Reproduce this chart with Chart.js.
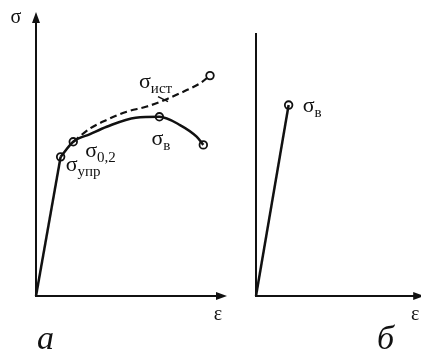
<!DOCTYPE html>
<html>
<head>
<meta charset="utf-8">
<script src="https://cdn.jsdelivr.net/npm/chart.js@4.4.0/dist/chart.umd.min.js"></script>
<style>
html, body { margin: 0; padding: 0; background: #fff; }
#wrap { position: relative; width: 421px; height: 360px; overflow: hidden; }
#wrap canvas { position: absolute; top: 0; }
.cap { position: absolute; font-family: "Liberation Serif", serif; font-style: italic; font-size: 34px; line-height: 1; color: #111; }
</style>
</head>
<body>
<div id="wrap">
  <canvas id="chartA" width="240" height="360" style="left:0"></canvas>
  <canvas id="chartB" width="190" height="360" style="left:240px"></canvas>
  <div class="cap" style="left:37px;top:321px">а</div>
  <div class="cap" style="left:377px;top:321px">б</div>
</div>
<script>
// а: пластичный материал (ε, σ в условных единицах 0..100)
const elasticEps = [0, 12.9];
const elasticSig = [0, 49.0];
const curveEps = [12.9, 19.5, 28.3, 37.0, 52.2, 64.6, 75.4, 84.1, 87.6];
const curveSig = [49.0, 54.3, 57.0, 59.6, 62.8, 63.1, 60.2, 56.1, 53.2];
const trueEps = [19.5, 28.3, 37.0, 47.5, 58.0, 68.4, 78.9, 85.9, 91.1];
const trueSig = [54.3, 59.0, 62.0, 64.9, 66.7, 69.3, 72.5, 74.9, 77.6];
// отмеченные точки: σупр, σ0,2, σв, разрушение, σист
const markEps = [12.9, 19.5, 64.6, 87.6, 91.1];
const markSig = [49.0, 54.3, 63.1, 53.2, 77.6];
const markSubs = ['упр', '0,2', 'в', '', 'ист'];

// б: хрупкий материал
const brittleEps = [0, 19.4];
const brittleSig = [0, 72.6];
const brittleSubs = ['', 'в'];

const INK = '#111';
const toPts = (xs, ys) => xs.map((x, i) => ({ x: x, y: ys[i] }));

// смещения подписей относительно точек (px)
const labelPosA = [
  { dx: 5, dy: 14 },
  { dx: 12, dy: 15 },
  { dx: -8, dy: 28 },
  null,
  { dx: -71, dy: 12 }
];
const labelPosB = [null, { dx: 14, dy: 7 }];

function drawSigma(ctx, x, y, sub) {
  ctx.save();
  ctx.fillStyle = INK;
  ctx.textAlign = 'left';
  ctx.textBaseline = 'alphabetic';
  ctx.font = '22px "Liberation Serif", serif';
  ctx.fillText('σ', x, y);
  const w = ctx.measureText('σ').width;
  ctx.font = '15px "Liberation Serif", serif';
  ctx.fillText(sub, x + w, y + 5);
  ctx.restore();
}

function arrowHead(ctx, x, y, dir) {
  ctx.beginPath();
  if (dir === 'up') {
    ctx.moveTo(x, y); ctx.lineTo(x - 4, y + 11); ctx.lineTo(x + 4, y + 11);
  } else {
    ctx.moveTo(x, y); ctx.lineTo(x - 11, y - 4); ctx.lineTo(x - 11, y + 4);
  }
  ctx.closePath();
  ctx.fill();
}

function axesPlugin(withYArrow, showSigma) {
  return {
    id: 'axes',
    beforeDatasetsDraw(chart) {
      const { ctx, chartArea, scales } = chart;
      const x0 = scales.x.getPixelForValue(0);
      const y0 = scales.y.getPixelForValue(0);
      ctx.save();
      ctx.strokeStyle = INK;
      ctx.fillStyle = INK;
      ctx.lineWidth = 2;
      ctx.beginPath();
      ctx.moveTo(x0, y0);
      ctx.lineTo(x0, chartArea.top + (withYArrow ? 8 : 0));
      ctx.moveTo(x0 - 1, y0);
      ctx.lineTo(chartArea.right - 8, y0);
      ctx.stroke();
      if (withYArrow) arrowHead(ctx, x0, chartArea.top, 'up');
      arrowHead(ctx, chartArea.right, y0, 'right');
      ctx.font = '20px "Liberation Serif", serif';
      ctx.textAlign = 'center';
      ctx.textBaseline = 'alphabetic';
      ctx.fillText('ε', chartArea.right - 9, y0 + 24);
      if (showSigma) ctx.fillText('σ', x0 - 20, chartArea.top + 11);
      ctx.restore();
    }
  };
}

function labelsPlugin(datasetIndex, subs, pos, leader) {
  return {
    id: 'pointLabels',
    afterDatasetsDraw(chart) {
      const { ctx } = chart;
      const meta = chart.getDatasetMeta(datasetIndex);
      meta.data.forEach((pt, i) => {
        if (!pos[i]) return;
        drawSigma(ctx, pt.x + pos[i].dx, pt.y + pos[i].dy, subs[i]);
      });
      if (leader) {
        const pt = meta.data[leader.i];
        ctx.save();
        ctx.strokeStyle = INK;
        ctx.lineWidth = 1.4;
        ctx.beginPath();
        ctx.moveTo(pt.x + leader.x1, pt.y + leader.y1);
        ctx.lineTo(pt.x + leader.x2, pt.y + leader.y2);
        ctx.stroke();
        ctx.restore();
      }
    }
  };
}

const markerStyle = {
  showLine: false,
  pointRadius: 3.8,
  pointBackgroundColor: '#fff',
  pointBorderColor: INK,
  pointBorderWidth: 1.8
};

function baseOptions(padding) {
  return {
    responsive: false,
    animation: false,
    layout: { padding: padding },
    plugins: { legend: { display: false }, tooltip: { enabled: false } },
    scales: {
      x: { type: 'linear', min: 0, max: 100, display: false },
      y: { type: 'linear', min: 0, max: 100, display: false }
    }
  };
}

new Chart(document.getElementById('chartA'), {
  type: 'scatter',
  data: {
    datasets: [
      { data: toPts(elasticEps, elasticSig), showLine: true, borderColor: INK, borderWidth: 2.5, pointRadius: 0, tension: 0, clip: false },
      { data: toPts(curveEps, curveSig), showLine: true, borderColor: INK, borderWidth: 2.5, pointRadius: 0, cubicInterpolationMode: 'monotone', clip: false },
      { data: toPts(trueEps, trueSig), showLine: true, borderColor: INK, borderWidth: 2.2, borderDash: [7, 4], pointRadius: 0, cubicInterpolationMode: 'monotone', clip: false },
      Object.assign({ data: toPts(markEps, markSig), clip: false }, markerStyle)
    ]
  },
  options: baseOptions({ left: 36, top: 12, right: 13, bottom: 64 }),
  plugins: [
    axesPlugin(true, true),
    labelsPlugin(3, markSubs, labelPosA, { i: 4, x1: -52, y1: 21, x2: -42, y2: 26 })
  ]
});

new Chart(document.getElementById('chartB'), {
  type: 'scatter',
  data: {
    datasets: [
      { data: toPts(brittleEps, brittleSig), showLine: true, borderColor: INK, borderWidth: 2.5, pointRadius: 0, tension: 0, clip: false },
      Object.assign({ data: toPts(brittleEps.slice(1), brittleSig.slice(1)), clip: false }, markerStyle)
    ]
  },
  options: baseOptions({ left: 16, top: 33, right: 2, bottom: 64 }),
  plugins: [
    axesPlugin(false, false),
    labelsPlugin(1, brittleSubs.slice(1), labelPosB.slice(1), null)
  ]
});
</script>
</body>
</html>
